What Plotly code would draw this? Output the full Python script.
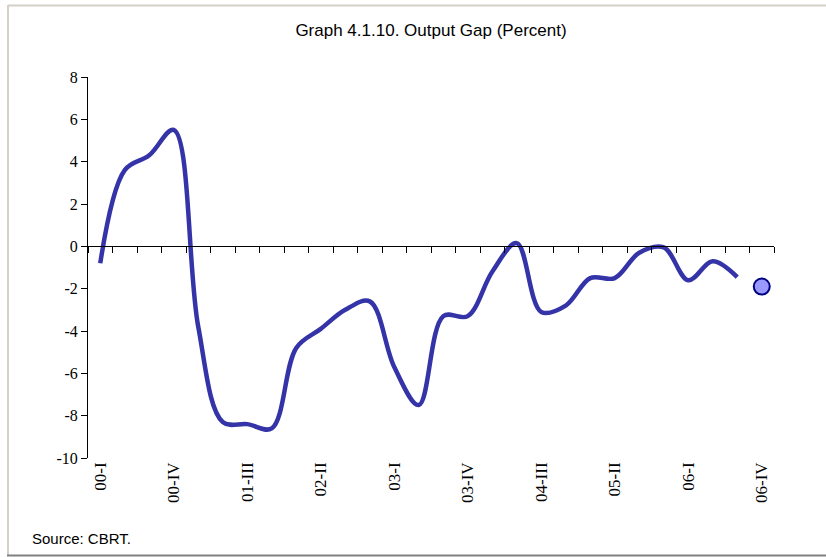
import plotly.graph_objects as go

quarters = ["00-I", "00-II", "00-III", "00-IV", "01-I", "01-II", "01-III", "01-IV",
            "02-I", "02-II", "02-III", "02-IV", "03-I", "03-II", "03-III", "03-IV",
            "04-I", "04-II", "04-III", "04-IV", "05-I", "05-II", "05-III", "05-IV",
            "06-I", "06-II", "06-III", "06-IV"]
output_gap = [-0.8, 3.6, 4.3, 5.5, -3.8, -8.3, -8.4, -8.6,
              -4.8, -3.9, -3.0, -2.6, -5.7, -7.5, -3.3, -3.3,
              -1.2, 0.15, -3.1, -2.8, -1.5, -1.5, -0.3, -0.05,
              -1.6, -0.7, -1.45, None]
forecast_q = ["06-IV"]
forecast_val = [-1.9]
tick_labels = ["00-I", "00-IV", "01-III", "02-II", "03-I", "03-IV", "04-III", "05-II", "06-I", "06-IV"]
y_ticks = [-10, -8, -6, -4, -2, 0, 2, 4, 6, 8]
y_tick_text = ["-10", "-8", "-6", "-4", "-2", "0", "2", "4", "6", "8"]

idx = {q: i for i, q in enumerate(quarters)}
x_vals = list(range(len(quarters)))

W, H = 826, 557
L, R, T, B = 88, 52, 77, 99
pw, ph = W - L - R, H - T - B
ymin, ymax = -10, 8


def px_x(p):
    return (p - L) / pw


def px_y(p):
    return (H - B - p) / ph


fig = go.Figure()
fig.add_trace(go.Scatter(
    x=x_vals, y=output_gap, mode="lines",
    line=dict(color="#3434A8", width=4.5, shape="spline", smoothing=1.0),
    connectgaps=False, showlegend=False, hoverinfo="skip"))
fig.add_trace(go.Scatter(
    x=[idx[q] for q in forecast_q], y=forecast_val, mode="markers",
    marker=dict(size=16, color="#9999FF", line=dict(color="#000080", width=2)),
    showlegend=False, hoverinfo="skip"))

# invisible trace on xaxis2 to activate it
fig.add_trace(go.Scatter(x=[0], y=[0], xaxis="x2", mode="markers",
                         marker=dict(opacity=0), showlegend=False, hoverinfo="skip"))

serif = "Liberation Serif, Times New Roman, serif"
sans = "Liberation Sans Narrow, Arial Narrow, Liberation Sans, Arial, sans-serif"

fig.update_layout(
    width=W, height=H,
    margin=dict(l=L, r=R, t=T, b=B, pad=0),
    paper_bgcolor="white", plot_bgcolor="white",
    title=dict(text="Graph 4.1.10. Output Gap (Percent)", x=0.5, xanchor="center",
               xref="paper", y=1 - 30 / H, yanchor="middle",
               font=dict(family=sans, size=17, color="black")),
    xaxis=dict(range=[-0.5, len(quarters) - 0.5], tickmode="array",
               tickvals=[idx[q] for q in tick_labels], ticktext=tick_labels,
               tickangle=-90, showline=False, ticks="", showgrid=False, zeroline=False,
               tickfont=dict(family=serif, size=17, color="black")),
    xaxis2=dict(range=[-0.5, len(quarters) - 0.5], overlaying="x", anchor="free",
                position=(0 - ymin) / (ymax - ymin), side="bottom",
                tickmode="array", tickvals=[i - 0.5 for i in range(len(quarters) + 1)],
                ticks="outside", ticklen=6, tickcolor="black", tickwidth=1,
                showticklabels=False, showline=True, linecolor="black", linewidth=1,
                showgrid=False, zeroline=False),
    yaxis=dict(range=[ymin, ymax], tickmode="array", tickvals=y_ticks, ticktext=y_tick_text,
               showline=True, linecolor="black",
               linewidth=1, ticks="outside", ticklen=6, tickcolor="black",
               showgrid=False, zeroline=False,
               tickfont=dict(family=serif, size=16, color="black")),
    shapes=[
        dict(type="line", xref="paper", yref="paper", x0=px_x(8), x1=px_x(826),
             y0=px_y(5.5), y1=px_y(5.5), line=dict(color="#D4D0C8", width=2)),
        dict(type="line", xref="paper", yref="paper", x0=px_x(8), x1=px_x(8),
             y0=px_y(5), y1=px_y(556), line=dict(color="#D4D0C8", width=2)),
        dict(type="line", xref="paper", yref="paper", x0=px_x(7), x1=px_x(826),
             y0=px_y(555.5), y1=px_y(555.5), line=dict(color="#808080", width=2)),
    ],
    annotations=[
        dict(text="Source: CBRT.", xref="paper", yref="paper", x=px_x(30), y=px_y(538),
             xanchor="left", yanchor="middle", showarrow=False,
             font=dict(family=sans, size=15, color="black")),
    ],
)

fig.write_html("out.html", config={"displayModeBar": False},
               post_script="document.body.style.margin='0';")
